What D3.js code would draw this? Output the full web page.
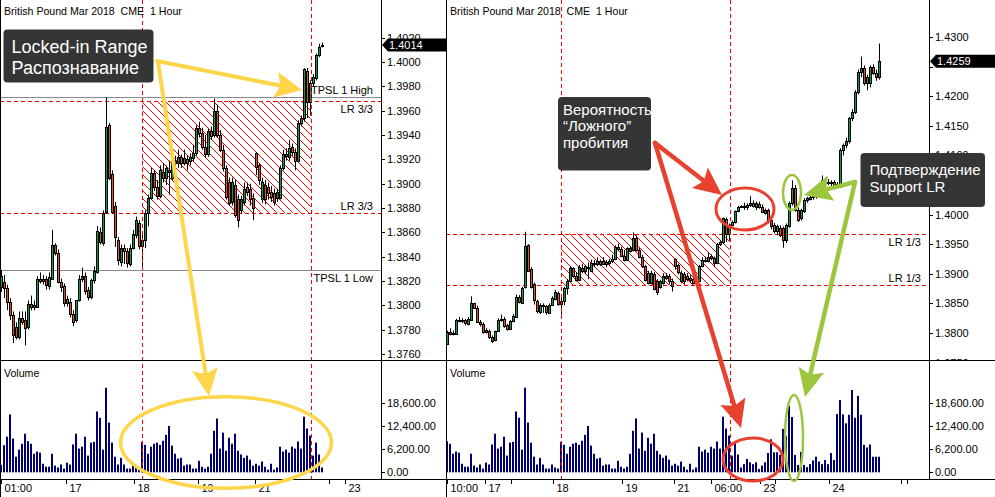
<!DOCTYPE html>
<html>
<head>
<meta charset="utf-8">
<script src="https://cdn.jsdelivr.net/npm/d3@7"></script>
<style>
  body { margin: 0; background: #fff; }
  svg { display: block; font-family: "Liberation Sans", Arial, sans-serif; }
  text { white-space: pre; }
</style>
</head>
<body>
<svg id="chart" width="995" height="497"></svg>
<script>
// hourly bars, British Pound Mar 2018 (CME), [open, high, low, close]
const candles = [
  [1.3815,1.3829,1.3811,1.3824],[1.3819,1.3825,1.3806,1.3814],[1.3814,1.3817,1.3796,1.3803],[1.3803,1.3806,1.3788,1.3792],
  [1.3792,1.3795,1.3769,1.3776],[1.3782,1.3786,1.3772,1.3774],[1.3774,1.3795,1.3772,1.3790],[1.3790,1.3795,1.3784,1.3786],
  [1.3788,1.3795,1.3767,1.3781],[1.3782,1.3804,1.3780,1.3801],[1.3801,1.3808,1.3796,1.3799],[1.3799,1.3804,1.3796,1.3800],
  [1.3799,1.3824,1.3798,1.3822],[1.3822,1.3827,1.3818,1.3820],[1.3820,1.3825,1.3817,1.3822],[1.3822,1.3824,1.3813,1.3817],
  [1.3816,1.3827,1.3813,1.3823],[1.3822,1.3862,1.3821,1.3850],[1.3850,1.3851,1.3841,1.3843],[1.3843,1.3846,1.3818,1.3819],
  [1.3819,1.3822,1.3811,1.3815],[1.3816,1.3818,1.3799,1.3802],[1.3802,1.3808,1.3799,1.3805],[1.3803,1.3806,1.3790,1.3793],
  [1.3793,1.3796,1.3783,1.3786],[1.3788,1.3804,1.3786,1.3804],[1.3804,1.3825,1.3803,1.3822],[1.3822,1.3831,1.3819,1.3824],
  [1.3824,1.3827,1.3809,1.3812],[1.3813,1.3815,1.3804,1.3807],[1.3807,1.3822,1.3805,1.3821],[1.3821,1.3832,1.3818,1.3828],
  [1.3827,1.3865,1.3826,1.3861],[1.3860,1.3864,1.3850,1.3852],[1.3851,1.3878,1.3849,1.3876],[1.3877,1.3971,1.3875,1.3947],
  [1.3948,1.3950,1.3903,1.3905],[1.3908,1.3911,1.3875,1.3877],[1.3882,1.3885,1.3848,1.3856],[1.3854,1.3856,1.3833,1.3837],
  [1.3836,1.3850,1.3832,1.3847],[1.3847,1.3850,1.3834,1.3845],[1.3845,1.3847,1.3831,1.3835],[1.3834,1.3850,1.3832,1.3847],
  [1.3847,1.3862,1.3846,1.3859],[1.3858,1.3873,1.3855,1.3870],[1.3868,1.3870,1.3846,1.3849],[1.3849,1.3860,1.3831,1.3854],
  [1.3854,1.3878,1.3847,1.3876],[1.3876,1.3891,1.3865,1.3888],[1.3888,1.3913,1.3887,1.3909],[1.3909,1.3911,1.3894,1.3897],
  [1.3897,1.3903,1.3887,1.3890],[1.3890,1.3915,1.3888,1.3911],[1.3910,1.3917,1.3901,1.3905],[1.3905,1.3915,1.3899,1.3913],
  [1.3911,1.3919,1.3891,1.3910],[1.3905,1.3924,1.3903,1.3919],[1.3919,1.3923,1.3911,1.3917],[1.3917,1.3928,1.3913,1.3922],
  [1.3922,1.3924,1.3913,1.3917],[1.3917,1.3928,1.3915,1.3921],[1.3920,1.3923,1.3911,1.3917],[1.3919,1.3925,1.3915,1.3922],
  [1.3921,1.3932,1.3918,1.3925],[1.3925,1.3948,1.3923,1.3946],[1.3946,1.3951,1.3938,1.3942],[1.3942,1.3946,1.3928,1.3930],
  [1.3930,1.3940,1.3921,1.3924],[1.3924,1.3945,1.3922,1.3943],[1.3943,1.3947,1.3936,1.3939],[1.3940,1.3970,1.3938,1.3960],
  [1.3960,1.3965,1.3938,1.3940],[1.3940,1.3944,1.3926,1.3928],[1.3928,1.3932,1.3910,1.3913],[1.3913,1.3915,1.3887,1.3889],
  [1.3901,1.3905,1.3882,1.3884],[1.3885,1.3905,1.3882,1.3901],[1.3899,1.3903,1.3872,1.3874],[1.3887,1.3891,1.3864,1.3870],
  [1.3878,1.3890,1.3875,1.3887],[1.3885,1.3901,1.3882,1.3896],[1.3897,1.3901,1.3890,1.3893],[1.3896,1.3900,1.3882,1.3887],
  [1.3888,1.3892,1.3870,1.3880],[1.3925,1.3926,1.3907,1.3914],[1.3915,1.3917,1.3899,1.3903],[1.3887,1.3905,1.3884,1.3901],
  [1.3899,1.3903,1.3883,1.3887],[1.3897,1.3901,1.3887,1.3892],[1.3893,1.3898,1.3885,1.3889],[1.3892,1.3896,1.3882,1.3885],
  [1.3888,1.3896,1.3885,1.3893],[1.3888,1.3915,1.3887,1.3913],[1.3913,1.3928,1.3911,1.3924],[1.3924,1.3929,1.3919,1.3923],
  [1.3922,1.3936,1.3919,1.3929],[1.3930,1.3933,1.3923,1.3926],[1.3926,1.3929,1.3911,1.3919],[1.3919,1.3952,1.3918,1.3950],
  [1.3950,1.3956,1.3947,1.3954],[1.3954,1.3995,1.3951,1.3994],[1.3993,1.3995,1.3954,1.3967],[1.3967,1.3985,1.3956,1.3983],
  [1.3983,1.3990,1.3980,1.3988],[1.3987,1.4007,1.3985,1.4006],[1.4006,1.4015,1.4004,1.4012],[1.4013,1.4016,1.4012,1.4014],
  [1.4013,1.4020,1.4008,1.4014],[1.4012,1.4019,1.4008,1.4016],[1.4016,1.4031,1.4013,1.4020],[1.4020,1.4024,1.4012,1.4014],
  [1.4013,1.4022,1.4008,1.4019],[1.4018,1.4022,1.4010,1.4013],[1.4013,1.4017,1.4003,1.4005],[1.4003,1.4010,1.4000,1.4007],
  [1.4007,1.4010,1.3985,1.3991],[1.3991,1.3995,1.3975,1.3980],[1.3982,1.3986,1.3968,1.3972],[1.3972,1.3983,1.3965,1.3980],
  [1.3978,1.3982,1.3962,1.3966],[1.3977,1.3980,1.3944,1.3957],[1.3957,1.3985,1.3952,1.3983],[1.3981,1.4022,1.3978,1.4020],
  [1.4020,1.4058,1.4015,1.4045],[1.4045,1.4050,1.4005,1.4008],[1.4008,1.4012,1.3988,1.3991],[1.3994,1.4010,1.3990,1.4008],
  [1.4006,1.4028,1.4003,1.4025],[1.4024,1.4030,1.4020,1.4028],[1.4027,1.4032,1.4024,1.4029],[1.4029,1.4035,1.4025,1.4031],
  [1.4031,1.4036,1.4027,1.4033],[1.4033,1.4038,1.4028,1.4035],[1.4035,1.4066,1.4030,1.4058],[1.4058,1.4062,1.4050,1.4055],
  [1.4055,1.4060,1.4050,1.4053],[1.4053,1.4058,1.4048,1.4055],[1.4055,1.4058,1.4045,1.4050],[1.4052,1.4055,1.4045,1.4047],
  [1.4047,1.4112,1.4045,1.4109],[1.4109,1.4120,1.4100,1.4118],[1.4118,1.4130,1.4112,1.4124],[1.4124,1.4165,1.4120,1.4163],
  [1.4163,1.4178,1.4158,1.4174],[1.4174,1.4210,1.4170,1.4207],[1.4207,1.4245,1.4203,1.4241],[1.4241,1.4267,1.4232,1.4247],
  [1.4247,1.4252,1.4218,1.4222],[1.4222,1.4236,1.4210,1.4233],[1.4222,1.4252,1.4215,1.4250],[1.4250,1.4254,1.4236,1.4239],
  [1.4240,1.4245,1.4226,1.4232],[1.4232,1.4289,1.4228,1.4259]
];

const volumes = [
  2000,7300,9600,15600,9100,4200,6100,7700,10400,8400,
  7700,5000,5600,5300,2300,1500,1500,5000,1800,1300,
  2100,1000,2600,2100,7500,10400,6400,6900,9600,4500,
  8000,8200,16400,14700,6100,22800,13400,8000,4200,2100,
  3900,2100,1000,1000,2100,1300,1000,8200,7400,5000,
  6900,7700,8000,7400,8500,10100,12500,7200,5000,3700,
  3900,1800,2100,2100,1000,1000,3100,1500,1000,1500,
  5000,11200,14500,6400,10700,5800,9300,7700,10400,5800,
  4800,3900,4500,3400,1800,2300,1800,2900,1500,700,
  2300,700,1300,6900,5600,6100,5300,6900,6400,8300,
  6400,15000,11800,9900,4500,8000,4800,1300,
  2200,3600,2700,2200,2700,900,1800,2700,5200,8900,
  5400,5400,4700,11700,9800,17900,14900,4700,2000,5500,
  2000,1400,2200,3200,4200,2900,2200,3300,2200,5200,
  3300,15700,19500,15600,13200,15500,22200,14700,20600,15500,
  7400,6700,7500,4200,4200,4200
];

const leftPriceTicks = [1.3760,1.3780,1.3800,1.3820,1.3840,1.3860,1.3880,1.3900,1.3920,1.3940,1.3960,1.3980,1.4000,1.4020];
const rightPriceTicks = [1.3750,1.3800,1.3850,1.3900,1.3950,1.4000,1.4050,1.4100,1.4150,1.4200,1.4250,1.4300];
// labels of these ticks sit under the price marker / callout in the original
const rightHiddenLabels = [1.4050, 1.4250];
const volumeTicks = [0, 6200, 12400, 18600];

// date axis: position in bars, label
const leftDates = [[0,"01:00"],[22.4,"17"],[44.9,"18"],[66.3,"19"],[85.4,"21"],[110,""],[115.5,"23"]];
const rightDates = [[9.5,"10:00"],[22.5,"17"],[31,""],[45.2,"18"],[68.2,"19"],[85.4,"21"],[97.8,"06:00"],[114.2,"23"],[118.9,""],[137.2,"24"],[160.9,""],[163.2,""]];

// the locked-in range (bar positions) and its levels
const rangeBars = [47.33, 103.45];
const leftLevels = [
  {p:1.3971, type:"tpsl", label:"TPSL 1 High", side:"above"},
  {p:1.3968, type:"lr", label:"LR 3/3", side:"below"},
  {p:1.3876, type:"lr", label:"LR 3/3", side:"above"},
  {p:1.3829, type:"tpsl", label:"TPSL 1 Low", side:"below"}
];
const rightLevels = [
  {p:1.3968, type:"lr", label:"LR 1/3", side:"below"},
  {p:1.3881, type:"lr", label:"LR 1/3", side:"above"}
];

const GREEN = "#00a14b", RED = "#ec4a25", NAVY = "#000070";
const title = "British Pound Mar 2018  CME  1 Hour";

const svg = d3.select("#chart");
const defs = svg.append("defs");

const hatch = defs.append("pattern")
  .attr("id", "hatch").attr("patternUnits", "userSpaceOnUse")
  .attr("width", 8).attr("height", 8);
hatch.append("path").attr("d", "M-2,-2 L10,10 M-2,6 L2,10 M6,-2 L10,2")
  .attr("stroke", "#ff0000").attr("stroke-width", 1).attr("shape-rendering", "crispEdges");

const panels = [
  {id:"L", left:0, plotRight:381, right:446, barStart:0.33, first:0, last:107,
   domain:[1.3760,1.4020], range:[354,37.7], ticks:leftPriceTicks, hidden:[], dates:leftDates, levels:leftLevels},
  {id:"R", left:446, plotRight:929, right:995, barStart:419.33, first:9, last:153,
   domain:[1.3750,1.4300], range:[362.6,37], ticks:rightPriceTicks, hidden:rightHiddenLabels, dates:rightDates, levels:rightLevels}
];

const priceBottom = 360, volBottom = 479;

panels.forEach(P => {
  const g = svg.append("g");
  const x = d3.scaleLinear().domain([0, 1]).range([P.barStart, P.barStart + 3]);
  const y = d3.scaleLinear().domain(P.domain).range(P.range);
  const yv = d3.scaleLinear().domain([0, 18600]).range([472.3, 403.3]);

  defs.append("clipPath").attr("id", "cp" + P.id).append("rect")
    .attr("x", P.left + 1).attr("y", 0).attr("width", P.plotRight - P.left - 1).attr("height", priceBottom);
  defs.append("clipPath").attr("id", "cv" + P.id).append("rect")
    .attr("x", P.left + 1).attr("y", priceBottom + 1).attr("width", P.plotRight - P.left - 1).attr("height", volBottom - priceBottom - 1);
  defs.append("clipPath").attr("id", "ca" + P.id).append("rect")
    .attr("x", P.plotRight).attr("y", 0).attr("width", P.right - P.plotRight).attr("height", priceBottom);

  const price = g.append("g").attr("clip-path", `url(#cp${P.id})`);
  const vol = g.append("g").attr("clip-path", `url(#cv${P.id})`);

  // range box with hatching
  const x0 = x(rangeBars[0]), x1 = x(rangeBars[1]);
  const lr = P.levels.filter(d => d.type === "lr");
  price.append("rect")
    .attr("x", x0).attr("y", y(lr[0].p))
    .attr("width", x1 - x0).attr("height", y(lr[1].p) - y(lr[0].p))
    .attr("fill", "url(#hatch)");

  // horizontal levels
  P.levels.forEach(L => {
    const yy = Math.round(y(L.p)) + 0.5;
    price.append("line").attr("x1", P.left).attr("x2", P.plotRight).attr("y1", yy).attr("y2", yy)
      .attr("stroke", L.type === "lr" ? "#ff0000" : "#8a8a8a").attr("stroke-width", 1)
      .attr("stroke-dasharray", L.type === "lr" ? "4,3" : null);
    price.append("text").attr("x", P.plotRight - 8).attr("y", L.side === "above" ? yy - 4 : yy + 11)
      .attr("text-anchor", "end").attr("font-size", 11).attr("fill", "#000").text(L.label);
  });

  // vertical range edges
  rangeBars.forEach(b => {
    const xx = Math.round(x(b)) + 0.5;
    g.append("line").attr("x1", xx).attr("x2", xx).attr("y1", 0).attr("y2", volBottom)
      .attr("stroke", "#ff0000").attr("stroke-dasharray", "4,3");
  });

  const data = candles.map((c, i) => ({i, o:c[0], h:c[1], l:c[2], c:c[3], v:volumes[i]}))
    .filter(d => d.i >= P.first && d.i <= P.last);

  // candles
  const cg = price.selectAll("g.c").data(data).enter().append("g");
  cg.append("line")
    .attr("x1", d => Math.floor(x(d.i)) + 1.5).attr("x2", d => Math.floor(x(d.i)) + 1.5)
    .attr("y1", d => y(d.h)).attr("y2", d => y(d.l))
    .attr("stroke", "#000").attr("stroke-width", 1);
  cg.append("rect")
    .attr("x", d => Math.floor(x(d.i)) + 0.5)
    .attr("y", d => Math.round(y(Math.max(d.o, d.c))) + 0.5)
    .attr("width", 2)
    .attr("height", d => Math.max(1, Math.round(y(Math.min(d.o, d.c))) - Math.round(y(Math.max(d.o, d.c)))))
    .attr("fill", d => d.c >= d.o ? GREEN : RED)
    .attr("stroke", "#000").attr("stroke-width", 1);

  // volume bars
  vol.selectAll("rect").data(data).enter().append("rect")
    .attr("x", d => Math.floor(x(d.i)))
    .attr("y", d => yv(d.v)).attr("width", 2)
    .attr("height", d => yv(0) - yv(d.v))
    .attr("fill", NAVY);

  // frame
  const fr = g.append("g").attr("stroke", "#000").attr("stroke-width", 1).attr("shape-rendering", "crispEdges");
  fr.append("line").attr("x1", P.left + 0.5).attr("x2", P.left + 0.5).attr("y1", 0).attr("y2", 497);
  fr.append("line").attr("x1", P.plotRight + 0.5).attr("x2", P.plotRight + 0.5).attr("y1", 0).attr("y2", volBottom);
  fr.append("line").attr("x1", P.left).attr("x2", P.right).attr("y1", priceBottom + 0.5).attr("y2", priceBottom + 0.5);
  fr.append("line").attr("x1", P.left).attr("x2", P.right).attr("y1", volBottom + 0.5).attr("y2", volBottom + 0.5);

  // price axis
  const ax = g.append("g").attr("clip-path", `url(#ca${P.id})`);
  P.ticks.forEach(t => {
    const yy = Math.round(y(t)) + 0.5;
    ax.append("line").attr("x1", P.plotRight).attr("x2", P.plotRight + 4).attr("y1", yy).attr("y2", yy).attr("stroke", "#000");
    if (P.hidden.includes(t)) return;
    ax.append("text").attr("x", P.plotRight + 6).attr("y", yy).attr("dy", "0.35em")
      .attr("font-size", 11).text(t.toFixed(4));
  });

  // volume axis
  volumeTicks.forEach(t => {
    const yy = Math.round(yv(t)) + 0.5;
    g.append("line").attr("x1", P.plotRight).attr("x2", P.plotRight + 4).attr("y1", yy).attr("y2", yy).attr("stroke", "#000");
    g.append("text").attr("x", P.plotRight + 6).attr("y", yy).attr("dy", "0.35em")
      .attr("font-size", 11).text(d3.format(",.2f")(t));
  });

  // date axis
  P.dates.forEach(([b, t]) => {
    const xx = Math.max(P.left + 1, Math.round(x(b) - 1.5)) + 0.5;
    if (xx > P.right) return;
    g.append("line").attr("x1", xx).attr("x2", xx).attr("y1", volBottom).attr("y2", volBottom + 5).attr("stroke", "#000");
    if (t) g.append("text").attr("x", xx + 3).attr("y", 492).attr("font-size", 11).text(t);
  });

  g.append("text").attr("x", P.left + 4).attr("y", 15).attr("font-size", 10.6).text(title);
  g.append("text").attr("x", P.left + 4).attr("y", 377).attr("font-size", 10.6).text("Volume");

  // last price marker
  const last = data[data.length - 1];
  const ly = y(last.c);
  g.append("path")
    .attr("d", `M${P.plotRight + 1},${ly} L${P.plotRight + 7},${ly - 6.5} L${P.right},${ly - 6.5} L${P.right},${ly + 6.5} L${P.plotRight + 7},${ly + 6.5} Z`)
    .attr("fill", "#000");
  g.append("text").attr("x", P.plotRight + 8).attr("y", ly).attr("dy", "0.36em")
    .attr("font-size", 11).attr("fill", "#fff").text(last.c.toFixed(4));
});

// ---- annotations ----
const note = svg.append("g");

function arrow(x1, y1, x2, y2, color, w, hl, hw) {
  const dx = x2 - x1, dy = y2 - y1, len = Math.hypot(dx, dy);
  const ux = dx / len, uy = dy / len, nx = -uy, ny = ux;
  const bx = x2 - ux * hl, by = y2 - uy * hl;
  note.append("line").attr("x1", x1).attr("y1", y1).attr("x2", bx + ux * 4).attr("y2", by + uy * 4)
    .attr("stroke", color).attr("stroke-width", w).attr("stroke-linecap", "round");
  const nb = 0.18 * hl;
  note.append("path")
    .attr("d", `M${x2},${y2} L${bx + nx * hw / 2},${by + ny * hw / 2} L${bx + ux * nb},${by + uy * nb} L${bx - nx * hw / 2},${by - ny * hw / 2} Z`)
    .attr("fill", color);
}
function ring(cx, cy, rx, ry, color, w) {
  note.append("ellipse").attr("cx", cx).attr("cy", cy).attr("rx", rx).attr("ry", ry)
    .attr("fill", "none").attr("stroke", color).attr("stroke-width", w);
}
function callout(x, y, w, h, lines, fs, lh, pad) {
  note.append("rect").attr("x", x).attr("y", y).attr("width", w).attr("height", h)
    .attr("rx", 4).attr("fill", "#353535");
  lines.forEach((t, k) => note.append("text").attr("x", x + pad).attr("y", y + pad + fs * 0.85 + k * lh)
    .attr("font-size", fs).attr("fill", "#fff").text(t));
}

const YEL = "#ffd54a", REDA = "#e8412f", GRN = "#9dc63f";

// left
ring(226, 442.5, 105.5, 45.8, YEL, 3.5);
arrow(157, 61, 302, 90, YEL, 4, 27, 26);
arrow(158, 62, 209, 396, YEL, 4, 27, 26);
callout(3.5, 29.5, 150, 53, ["Locked-in Range", "Распознавание"], 18, 21, 8);

// right
ring(745, 209, 29, 21, REDA, 3);
ring(753, 459.5, 30, 21.5, REDA, 3);
ring(792, 192.5, 9, 17.5, GRN, 2.5);
ring(794, 438, 9, 43, GRN, 2.5);
arrow(655, 143, 722, 195, REDA, 4.5, 28, 26);
arrow(655, 143, 741, 428, REDA, 4.5, 28, 26);
arrow(855, 182, 804, 195, GRN, 4.5, 28, 26);
arrow(855, 182, 805, 397, GRN, 4.5, 28, 26);
callout(558, 97, 93, 73.5, ["Вероятность", "“Ложного”", "пробития"], 15, 16.5, 5);
callout(860.5, 153, 124.5, 54, ["Подтверждение", "Support LR"], 15, 17, 9);
</script>
</body>
</html>
